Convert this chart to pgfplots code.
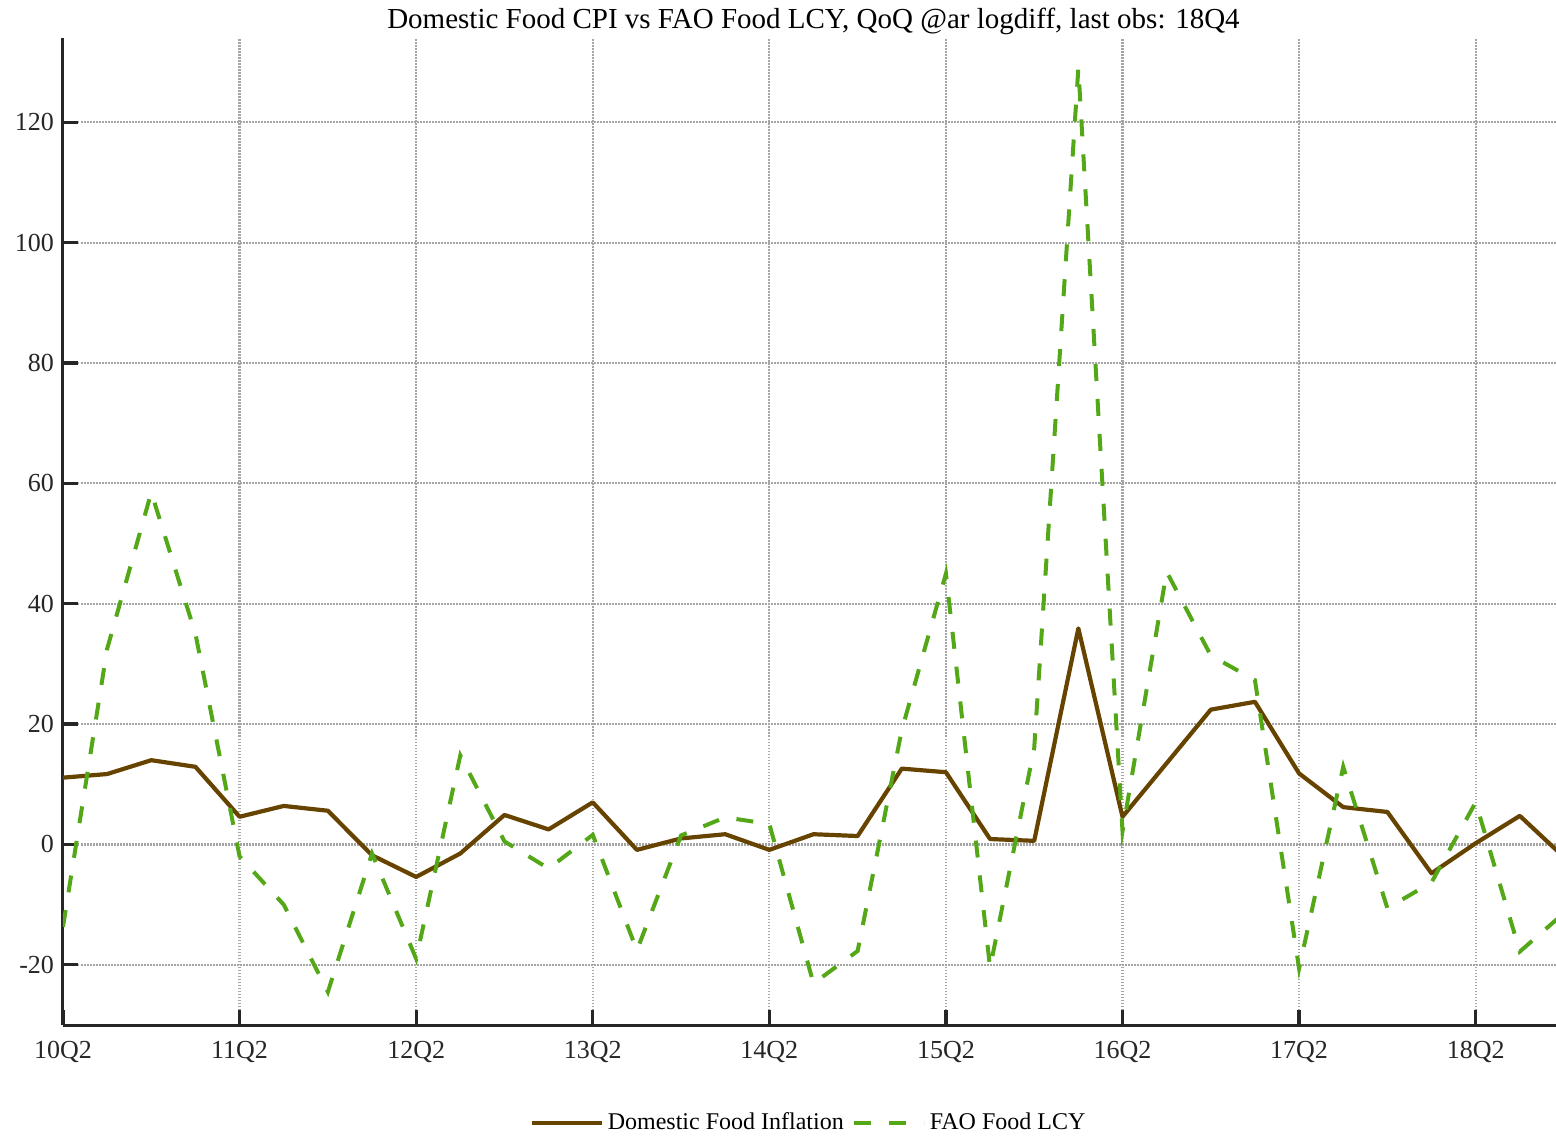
\documentclass[border=0pt]{standalone}
\usepackage{fontspec}
\setmainfont{Liberation Serif}
\usepackage{pgfplots}
\pgfplotsset{compat=1.18}
\definecolor{brownl}{RGB}{102,68,0}
\definecolor{greenl}{RGB}{84,168,24}
\definecolor{gridc}{RGB}{165,165,165}
\definecolor{axc}{RGB}{38,38,38}
\begin{document}
\begin{tikzpicture}
\begin{axis}[
  scale only axis, width=746.5pt, height=493.5pt,
  xmin=0, xmax=33.82, ymin=-30, ymax=134,
  axis x line*=bottom, axis y line*=left,
  axis line style={axc, line width=1.5pt},
  tick align=inside, major tick length=7.5pt,
  every tick/.style={axc, line width=1.6pt},
  xtick={0,4,...,32},
  xticklabels={10Q2,11Q2,12Q2,13Q2,14Q2,15Q2,16Q2,17Q2,18Q2},
  ytick={-20,0,20,40,60,80,100,120},
  yticklabels={-20,0,20,40,60,80,100,120},
  grid=major,
  major grid style={gridc, line width=1.1pt, dash pattern=on 0.75pt off 0.75pt},
  ticklabel style={font=\fontsize{13}{15}\selectfont, text=axc},
  xticklabel style={yshift=-4.5pt},
  yticklabel style={xshift=-1pt},
  /pgf/number format/assume math mode=true,
  legend style={at={(0.5,-0.0993)}, anchor=center, draw=none, fill=none,
    legend columns=-1, font=\fontsize{12}{14}\selectfont,
    /tikz/every even column/.append style={column sep=2pt}},
  legend image code/.code={\draw[#1] (0pt,0pt) -- (35pt,0pt);},
  clip=true,
]
\coordinate (SW) at (rel axis cs:0,0);
\coordinate (NE) at (rel axis cs:1,1);
\coordinate (T) at (rel axis cs:0.5,1);
\addplot[brownl, line width=2.1pt, line join=round] coordinates {
(0,11.1) (1,11.7) (2,14.0) (3,12.9) (4,4.6) (5,6.4) (6,5.6) (7,-1.8) (8,-5.4) (9,-1.5)
(10,4.9) (11,2.5) (12,7.0) (13,-0.9) (14,1.0) (15,1.7) (16,-0.9) (17,1.7) (18,1.4) (19,12.6)
(20,12.0) (21,0.9) (22,0.6) (23,35.9) (24,4.6) (25,13.5) (26,22.4) (27,23.7) (28,11.8) (29,6.2)
(30,5.4) (31,-4.8) (32,0.2) (33,4.75) (34,-2.1)
};
\addlegendentry{Domestic Food Inflation}
\addplot[greenl, line width=2pt, dash pattern=on 8.5pt off 9pt] coordinates {
(0,-13.7) (1,32.5) (2,58.5) (3,35) (4,-2) (5,-10) (6,-24.5) (7,-1.5) (8,-19) (9,14.8)
(10,0.5) (11,-4) (12,1.6) (13,-17.6) (14,1.5) (15,4.5) (16,3.4) (17,-23.1) (18,-17.7) (19,19)
(20,45) (21,-20.5) (22,16) (23,129) (24,2.2) (25,45.3) (26,31.4) (27,27.3) (28,-20.6) (29,12.9)
(30,-10.6) (31,-6.3) (32,7.0) (33,-17.8) (34,-11.4)
};
\addlegendentry{FAO Food LCY}
\end{axis}
\node[anchor=base, font=\fontsize{14.5}{17}\selectfont, inner sep=0pt] at ([shift={(2pt,4.5pt)}]T)
  {Domestic Food CPI vs FAO Food LCY, QoQ @ar logdiff, last obs: 18Q4};
\pgfresetboundingbox
\path ([shift={(-31.5pt,-57.5pt)}]SW) rectangle ([shift={(0pt,19pt)}]NE);
\end{tikzpicture}
\end{document}
